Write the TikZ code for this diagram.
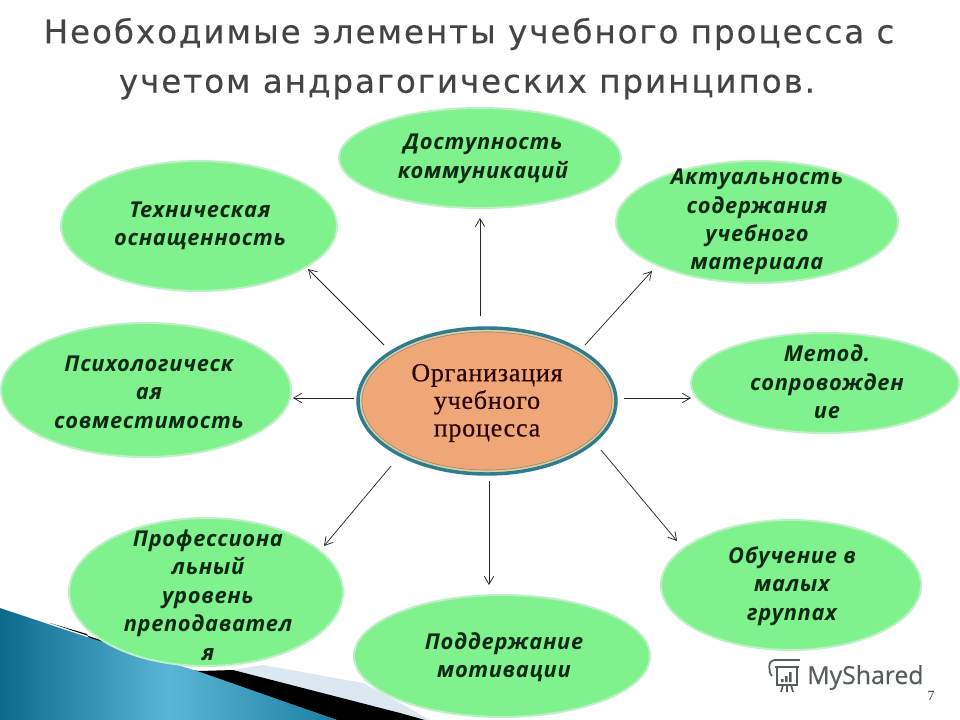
\documentclass[tikz,border=0pt]{standalone}
\usepackage{fontspec}
\setmainfont{Liberation Serif}
\newfontfamily\titlefont[LetterSpace=6,FakeBold=0.25]{DejaVu Sans}
\newfontfamily\bubfont[LetterSpace=3,BoldItalicFont={Open Sans Bold Italic}]{Open Sans}
\newfontfamily\midfont[LetterSpace=3,FakeBold=0.5]{Liberation Serif}
\newfontfamily\logofont[FakeBold=0.3]{Open Sans}
\usetikzlibrary{shapes.geometric,arrows.meta}
\definecolor{bubfill}{HTML}{7FF28E}
\definecolor{bubrim}{HTML}{BDF0C4}
\definecolor{midfill}{HTML}{F0A777}
\definecolor{midrim}{HTML}{2F7C92}
\definecolor{titlecol}{HTML}{444444}
\definecolor{bubtext}{HTML}{0E2A14}
\definecolor{logocol}{HTML}{565E5C}
\definecolor{bandcol}{HTML}{DCE8F0}
\definecolor{blueA}{HTML}{0B6A8A}
\definecolor{blueB}{HTML}{5BB5D6}
\definecolor{blueC}{HTML}{1A7FA0}
\tikzset{
  x=0.75pt,y=-0.75pt,
  bubble/.style={ellipse,fill=bubfill,draw=bubrim,line width=1.5pt,inner sep=0pt},
  bubtxt/.style={align=center,inner sep=0pt,text=bubtext,font=\bubfont\bfseries\itshape\fontsize{16.4}{21.3}\selectfont},
  midshape/.style={ellipse,fill=midfill,draw=midrim,line width=2.6pt,inner sep=0pt},
  midtxt/.style={align=center,inner sep=0pt,text=black!85!red,font=\midfont\fontsize{19.5}{20.7}\selectfont},
  titletxt/.style={inner sep=0pt,text=titlecol,font=\titlefont\fontsize{24.4}{28}\selectfont},
  link/.style={-{Straight Barb[length=6pt,width=7pt]},line width=0.55pt,draw=black!85},
  logoline/.style={draw=logocol,line width=1.3pt}
}
\newcommand{\bub}[5]{\node[bubble,minimum width=#4*1.5pt,minimum height=#5*1.5pt] (#1) at (#2,#3) {};}
\begin{document}
\begin{tikzpicture}
\useasboundingbox (0,0) rectangle (960,720);
\fill[white] (0,0) rectangle (960,720);
% lower-left decoration
\fill[bandcol] (233,670) -- (263,665) -- (363,683) -- (400,703) -- (430,720) -- (340,720) -- cycle;
\fill[black] (50,623) -- (87,634) -- (100,660) -- (200,671) -- (233,670) -- (400,713) -- (425,720) -- (337,720) -- cycle;
\begin{scope}
\clip (0,608) -- (87,637) -- (200,672) -- (337,720) -- (0,720) -- cycle;
\shade[left color=blueA,right color=blueB] (0,600) rectangle (170,720);
\shade[left color=blueB,right color=blueC] (170,600) rectangle (340,720);
\end{scope}
% title
\node[titletxt] (title1) at (469,34) {Необходимые элементы учебного процесса с};
\node[titletxt] (title2) at (467,87) {учетом андрагогических принципов.};
% bubbles
\bub{dost}{480}{158}{141}{50}
\bub{tech}{199}{226}{138}{65}
\bub{aktu}{757}{222}{141}{61}
\bub{psih}{146}{390}{145}{67}
\bub{meto}{825}{383}{134}{50}
\bub{prof}{206}{592}{137}{74}
\bub{obuc}{791}{585}{130}{65}
\bub{podd}{502}{656}{148}{61}
\node[bubtxt] (dostt) at (483,159) {Доступность\\коммуникаций};
\node[bubtxt] (techt) at (200,226) {Техническая\\оснащенность};
\node[bubtxt] (aktut) at (757,222) {Актуальность\\содержания\\учебного\\материала};
\node[bubtxt] (psiht) at (149,392) {Психологическ\\ая\\совместимость};
\node[bubtxt] (metot) at (827,382) {Метод.\\сопровожден\\ие};
\node[bubtxt] (proft) at (208,595) {Профессиона\\льный\\уровень\\преподавател\\я};
\node[bubtxt] (obuct) at (792,586) {Обучение в\\малых\\группах};
\node[bubtxt] (poddt) at (504,657) {Поддержание\\мотивации};
% centre
\node[midshape,minimum width=193.5pt,minimum height=109.5pt] (mid) at (487,401) {};
\draw[bubrim!60!midfill,line width=1pt] (mid.center) ellipse [x radius=126.3,y radius=70.3];
\draw[midrim!60!midfill,line width=0.4pt] (mid.center) ellipse [x radius=125,y radius=69];
\node[midtxt] (midt) at (487,403) {Организация\\учебного\\процесса};
% connectors
\coordinate (a1) at (480,316); \coordinate (b1) at (480,218);
\coordinate (a2) at (585,345); \coordinate (b2) at (652,271);
\coordinate (a3) at (624,398); \coordinate (b3) at (691,398);
\coordinate (a4) at (601,450); \coordinate (b4) at (677,541);
\coordinate (a5) at (489,481); \coordinate (b5) at (489,585);
\coordinate (a6) at (391,466); \coordinate (b6) at (324,546);
\coordinate (a7) at (354,398); \coordinate (b7) at (293,398);
\coordinate (a8) at (384,345); \coordinate (b8) at (308,269);
\foreach \i in {1,...,8} {\draw[link] (a\i) -- (b\i);}
% logo
\draw[logoline] (774,660) -- (800,660) (775,667) -- (799,667) (777,667) -- (777,685) -- (797,685) -- (797,667);
\draw[logoline] (774,660) .. controls (768,660) and (768,672) .. (772,676);
\fill[logocol] (781,679) rectangle (783.5,682) (785,676) rectangle (787.5,682) (789,672) rectangle (791.5,682);
\draw[logoline] (783,685) -- (781,692) (787,685) -- (787,692) (791,685) -- (793,692);
\node[inner sep=0pt,anchor=base west,text=logocol,font=\logofont\fontsize{18.6}{20}\selectfont] (logo) at (807,684) {MyShared};
\node[inner sep=0pt,text=black!80,font=\fontsize{10.5}{11}\selectfont] (page) at (931,696) {7};
\end{tikzpicture}
\end{document}
